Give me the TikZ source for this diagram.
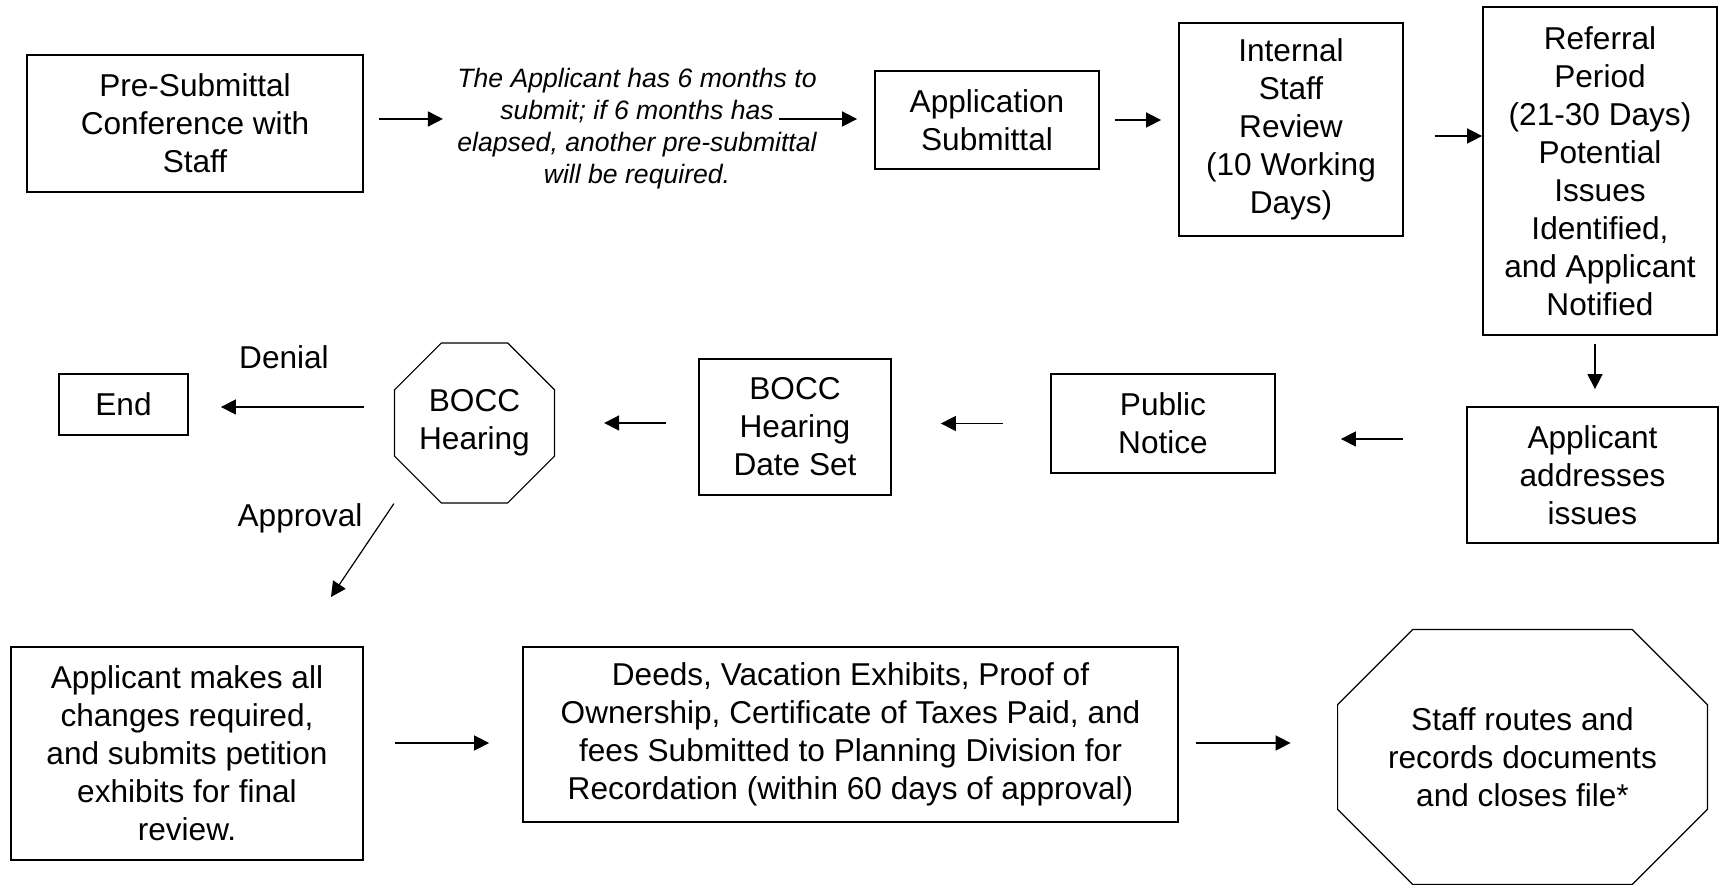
\documentclass[tikz,border=0pt]{standalone}
\usepackage{fontspec}
\setmainfont{Liberation Sans}
\usetikzlibrary{arrows.meta,shapes.geometric}

\begin{document}
\begin{tikzpicture}[x=0.5pt,y=-0.5pt,font=\fontsize{15.8}{19}\selectfont,
  box/.style={draw,line width=0.9pt,align=center,inner sep=0pt},
  arr/.style={line width=0.8pt,-{Triangle[length=7.5pt,width=7.5pt]}}]
  \useasboundingbox (0,0) rectangle (1720,886);
  \node[box,minimum width=168pt,minimum height=68.5pt] (1) at (195,123.5) {Pre-Submittal\\Conference with\\Staff};
  \node[align=center,inner sep=0pt,font=\itshape\fontsize{13.3}{16}\selectfont] (2) at (637,129) {The Applicant has 6 months to\\submit; if 6 months has\\elapsed, another pre-submittal\\will be required.};
  \node[box,minimum width=112pt,minimum height=49pt] (3) at (987,120) {Application\\Submittal};
  \node[box,minimum width=112pt,minimum height=106.5pt] (4) at (1291,129.5) {Internal\\Staff\\Review\\(10 Working\\Days)};
  \node[box,minimum width=117pt,minimum height=164pt] (5) at (1600,171) {Referral\\Period\\(21-30 Days)\\Potential\\Issues\\Identified,\\and Applicant\\Notified};
  \node[box,minimum width=125.5pt,minimum height=68pt] (6) at (1592.5,475) {Applicant\\addresses\\issues};
  \node[box,minimum width=112pt,minimum height=49.5pt] (7) at (1163,423.5) {Public\\Notice};
  \node[box,minimum width=96pt,minimum height=68pt] (8) at (795,427) {BOCC\\Hearing\\Date Set};
  \node[draw,regular polygon,regular polygon sides=8,minimum size=86.6pt,inner sep=0pt,line width=0.6pt,align=center] (9) at (474.5,423) {BOCC\\Hearing};
  \node[box,minimum width=64.5pt,minimum height=30.5pt] (10) at (123.5,404.5) {End};
  \node (11) at (284,357) {Denial};
  \node (12) at (300,518) {Approval};
  \node[box,minimum width=176pt,minimum height=106.5pt] (13) at (187,753.5) {Applicant makes all\\changes required,\\and submits petition\\exhibits for final\\review.};
  \node[box,minimum width=327.5pt,minimum height=87.5pt] (14) at (850.5,734.5) {Deeds, Vacation Exhibits, Proof of\\Ownership, Certificate of Taxes Paid, and\\fees Submitted to Planning Division for\\Recordation (within 60 days of approval)};
  \node[align=center,inner sep=0pt,minimum width=184.5pt,minimum height=127pt] (15) at (1522.5,757) {Staff routes and\\records documents\\and closes file*};
  \draw[line width=0.6pt] ([xshift=37.5pt]15.north west) -- ([xshift=-37.5pt]15.north east) -- ([yshift=-37.5pt]15.north east) -- ([yshift=37.5pt]15.south east) -- ([xshift=-37.5pt]15.south east) -- ([xshift=37.5pt]15.south west) -- ([yshift=37.5pt]15.south west) -- ([yshift=-37.5pt]15.north west) -- cycle;
  \coordinate (2a) at (779,119);
  \coordinate (9a) at (331,597);
  \draw[arr,shorten <=7.5pt,shorten >=7pt] ([yshift=2.25pt]1.east) -- ([yshift=2.25pt]1.east -| 2.west);
  \draw[arr,shorten >=8.5pt] (2a) -- (2a -| 3.west);
  \draw[arr,shorten <=7.5pt,shorten >=8.5pt] (3.east) -- (3.east -| 4.west);
  \draw[arr,shorten <=15.5pt] ([yshift=-3.25pt]4.east) -- ([yshift=-3.25pt]4.east -| 5.west);
  \draw[arr,shorten <=4pt,shorten >=8.5pt] ([xshift=-2.5pt]5.south) -- ([xshift=-2.5pt]5.south |- 6.north);
  \draw[arr,shorten <=31.5pt,shorten >=32.5pt] ([yshift=-7.75pt]7.east -| 6.west) -- ([yshift=-7.75pt]7.east);
  \draw[arr,shorten <=23.5pt,shorten >=24.5pt] (7.west) -- (7.west -| 8.east);
  \draw[arr,shorten <=16pt,shorten >=24.5pt] (9.east -| 8.west) -- (9.east);
  \draw[arr,shorten <=15pt,shorten >=16pt] ([yshift=-1.25pt]10.east -| 9.west) -- ([yshift=-1.25pt]10.east);
  \draw[arr,line width=0.6pt] (9.west |- 9.south) -- (9a);
  \draw[arr,shorten <=15.5pt,shorten >=16.5pt] ([yshift=5.25pt]13.east) -- ([yshift=5.25pt]13.east -| 14.west);
  \draw[arr,shorten <=8.5pt,shorten >=23.5pt] ([yshift=-4.25pt]14.east) -- ([yshift=-4.25pt]14.east -| 15.west);
\end{tikzpicture}
\end{document}
